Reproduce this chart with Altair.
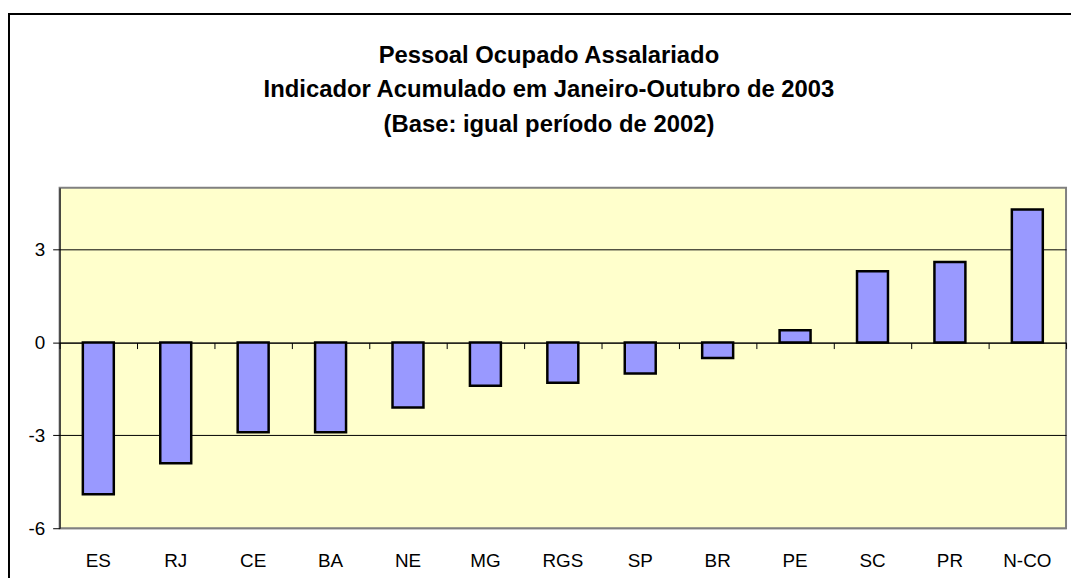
import altair as alt
import pandas as pd

categories = ["ES", "RJ", "CE", "BA", "NE", "MG", "RGS", "SP", "BR", "PE", "SC", "PR", "N-CO"]
values = [-4.9, -3.9, -2.9, -2.9, -2.1, -1.4, -1.3, -1.0, -0.5, 0.4, 2.3, 2.6, 4.3]
y_ticks = [-6, -3, 0, 3]
title_lines = [
    "Pessoal Ocupado Assalariado",
    "Indicador Acumulado em Janeiro-Outubro de 2003",
    "(Base: igual período de 2002)",
]

df = pd.DataFrame({"cat": categories, "val": values})

FONT = "Liberation Sans"
xscale = alt.Scale(domain=categories, paddingInner=0, paddingOuter=0)
yscale = alt.Scale(domain=[-6, 5], nice=False, zero=False)

y_axis = alt.Axis(
    values=y_ticks, title=None, grid=True,
    gridColor={"condition": {"test": "datum.value === -6", "value": "#808080"}, "value": "#000000"},
    gridWidth=1, domainColor="#000000", domainWidth=1, tickColor="#000000", tickSize=7,
    labelPadding=8, labelFont=FONT, labelFontSize=19, labelColor="#000000",
    labelExpr="'' + datum.value",
)

label_axis = alt.Axis(
    orient="bottom", title=None, domain=False, ticks=False, tickSize=0, labelPadding=24,
    labelAngle=0, labelFont=FONT, labelFontSize=19, labelColor="#000000", grid=False,
)

tick_axis = alt.Axis(
    orient="bottom", title=None, labels=False, domain=True, domainColor="#000000",
    ticks=True, tickBand="extent", tickSize=6, tickColor="#000000", offset=-187, grid=False,
)

bars = alt.Chart(df).mark_bar(
    color="#9999FF", stroke="#000000", strokeWidth=2.5, width=alt.RelativeBandSize(0.4)
).encode(
    x=alt.X("cat:N", sort=categories, scale=xscale, axis=label_axis),
    y=alt.Y("val:Q", scale=yscale, axis=y_axis),
)

ticks_layer = alt.Chart(df).mark_point(opacity=0).encode(
    x=alt.X("cat:N", sort=categories, scale=xscale, axis=tick_axis),
)

frame = alt.Chart(pd.DataFrame({"k": [0]})).mark_rect(
    fillOpacity=0, stroke="#000000", strokeWidth=2, clip=False
).encode(
    x=alt.value(-51), x2=alt.value(1100), y=alt.value(-175), y2=alt.value(420)
)

chart = alt.layer(bars, ticks_layer, frame).resolve_scale(x="shared").resolve_axis(
    x="independent"
).properties(
    width=1014, height=343,
    title=alt.Title(
        title_lines, font=FONT, fontSize=24, fontWeight="bold", color="#000000",
        anchor="middle", frame="group", dx=-14, offset=-144, lineHeight=35,
        baseline="alphabetic",
    ),
    autosize=alt.AutoSizeParams(type="none"),
    padding={"left": 52, "top": 179, "right": 5, "bottom": 48},
    background="#FFFFFF",
).configure_view(
    fill="#FFFFCC", stroke="#808080", strokeWidth=2
)

chart.save("out.html", embed_options={"renderer": "svg", "actions": False})
